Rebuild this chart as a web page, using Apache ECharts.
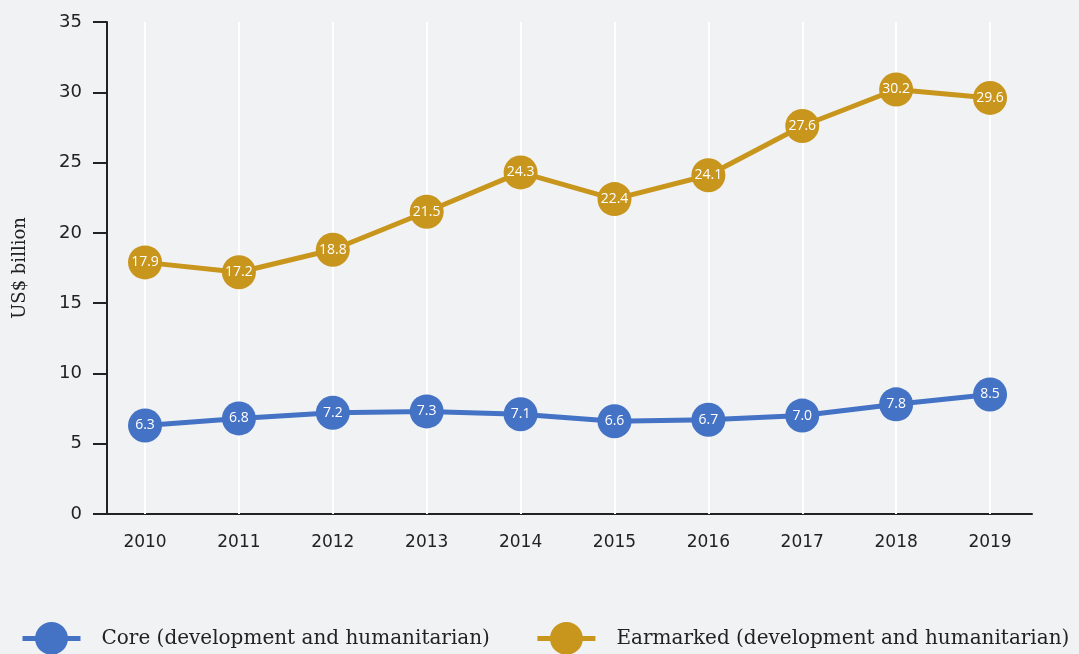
<!DOCTYPE html>
<html>
<head>
<meta charset="utf-8">
<script src="https://cdn.jsdelivr.net/npm/echarts@6/dist/echarts.min.js"></script>
<style>
  html, body { margin: 0; padding: 0; background: #f1f2f4; }
  #chart { width: 1079px; height: 654px; }
</style>
</head>
<body>
<div id="chart"></div>
<script>
var years = [2010, 2011, 2012, 2013, 2014, 2015, 2016, 2017, 2018, 2019];
var coreValues = [6.3, 6.8, 7.2, 7.3, 7.1, 6.6, 6.7, 7.0, 7.8, 8.5];
var earmarkedValues = [17.9, 17.2, 18.8, 21.5, 24.3, 22.4, 24.1, 27.6, 30.2, 29.6];
var yTicks = [0, 5, 10, 15, 20, 25, 30, 35];

var blue = "#4472c4";
var gold = "#c9961d";
var numFont = "DejaVu Sans";
var textFont = "DejaVu Serif";

function pairs(vals) {
    return years.map(function(y, i) { return [y, vals[i]]; });
}

function lineSeries(name, vals, color) {
    return {
        name: name,
        type: "line",
        data: pairs(vals),
        symbol: "circle",
        symbolSize: 34,
        lineStyle: { color: color, width: 5 },
        itemStyle: { color: color },
        label: {
            show: true,
            position: "inside",
            color: "#ffffff",
            fontFamily: "Open Sans",
            fontSize: 14,
            formatter: function(p) { return p.value[1].toFixed(1); }
        },
        emphasis: { disabled: true }
    };
}

var myChart = echarts.init(document.getElementById("chart"));
myChart.setOption({
    backgroundColor: "#f1f2f4",
    animation: false,
    grid: { left: 107, right: 47, top: 22, bottom: 140 },
    legend: {
        top: 622,
        left: 20,
        width: 1059,
        padding: 0,
        itemWidth: 58,
        itemHeight: 41,
        itemGap: 45,
        lineStyle: { width: 5 },
        textStyle: { fontFamily: textFont, fontSize: 20, color: "#222", padding: [0, 0, 0, 16] },
        data: ["Core (development and humanitarian)", "Earmarked (development and humanitarian)"]
    },
    xAxis: {
        type: "value",
        min: 2009.595,
        max: 2019.447,
        axisLine: { show: true, lineStyle: { color: "#222", width: 2 } },
        axisTick: {
            show: true,
            inside: true,
            length: 492,
            customValues: years,
            lineStyle: { color: "#ffffff", width: 2 }
        },
        axisLabel: {
            customValues: years,
            margin: 20,
            color: "#222",
            fontFamily: numFont,
            fontSize: 17,
            formatter: function(v) { return String(v); }
        },
        splitLine: { show: false }
    },
    yAxis: {
        type: "value",
        min: yTicks[0],
        max: yTicks[yTicks.length - 1],
        interval: 5,
        name: "US$ billion",
        nameLocation: "middle",
        nameGap: 78,
        nameTextStyle: { fontFamily: textFont, fontSize: 18, color: "#222" },
        axisLine: { show: true, lineStyle: { color: "#222", width: 2 } },
        axisTick: { show: true, length: 14, lineStyle: { color: "#222", width: 2 } },
        axisLabel: {
            margin: 25,
            color: "#222",
            fontFamily: numFont,
            fontSize: 18
        },
        splitLine: { show: false }
    },
    series: [
        lineSeries("Core (development and humanitarian)", coreValues, blue),
        lineSeries("Earmarked (development and humanitarian)", earmarkedValues, gold)
    ]
});
</script>
</body>
</html>
